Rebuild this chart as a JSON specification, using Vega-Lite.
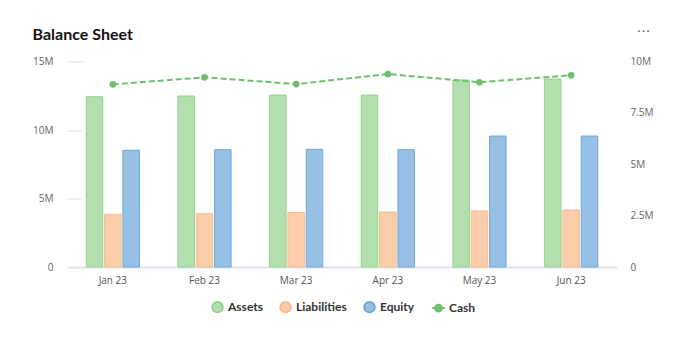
{
  "$schema": "https://vega.github.io/schema/vega-lite/v6.json",
  "width": 550,
  "height": 205.5,
  "autosize": {"type": "none"},
  "padding": {"left": 67, "top": 61.5, "right": 71, "bottom": 87},
  "background": "#ffffff",
  "title": {"text": "Balance Sheet", "anchor": "start", "frame": "bounds", "font": "Lato", "fontSize": 16, "fontWeight": "bold", "color": "#111111", "offset": 14, "dy": 33},
  "datasets": {
    "bars": [
      {"month": "Jan 23", "series": "Assets", "value": 12430000},
      {"month": "Jan 23", "series": "Liabilities", "value": 3850000},
      {"month": "Jan 23", "series": "Equity", "value": 8520000},
      {"month": "Feb 23", "series": "Assets", "value": 12480000},
      {"month": "Feb 23", "series": "Liabilities", "value": 3890000},
      {"month": "Feb 23", "series": "Equity", "value": 8560000},
      {"month": "Mar 23", "series": "Assets", "value": 12550000},
      {"month": "Mar 23", "series": "Liabilities", "value": 3970000},
      {"month": "Mar 23", "series": "Equity", "value": 8590000},
      {"month": "Apr 23", "series": "Assets", "value": 12550000},
      {"month": "Apr 23", "series": "Liabilities", "value": 4010000},
      {"month": "Apr 23", "series": "Equity", "value": 8560000},
      {"month": "May 23", "series": "Assets", "value": 13650000},
      {"month": "May 23", "series": "Liabilities", "value": 4090000},
      {"month": "May 23", "series": "Equity", "value": 9560000},
      {"month": "Jun 23", "series": "Assets", "value": 13720000},
      {"month": "Jun 23", "series": "Liabilities", "value": 4160000},
      {"month": "Jun 23", "series": "Equity", "value": 9560000}
    ],
    "cash": [
      {"month": "Jan 23", "series": "Cash", "value": 8890000},
      {"month": "Feb 23", "series": "Cash", "value": 9230000},
      {"month": "Mar 23", "series": "Cash", "value": 8900000},
      {"month": "Apr 23", "series": "Cash", "value": 9390000},
      {"month": "May 23", "series": "Cash", "value": 8990000},
      {"month": "Jun 23", "series": "Cash", "value": 9330000}
    ]
  },
  "layer": [
    {
      "data": {"name": "bars"},
      "mark": {"type": "bar", "strokeWidth": 1},
      "encoding": {
        "x": {"field": "month", "type": "nominal", "title": null,
              "scale": {"domain": ["Jan 23", "Feb 23", "Mar 23", "Apr 23", "May 23", "Jun 23"], "paddingInner": 0.42, "paddingOuter": 0.21},
              "axis": {"domain": true, "domainColor": "#dfe3ee", "domainWidth": 2, "labelPadding": 8, "labelAngle": 0, "labelColor": "#555555"}},
        "xOffset": {"field": "series", "type": "nominal",
                    "scale": {"domain": ["Assets", "Liabilities", "Equity"], "paddingInner": 0.1, "paddingOuter": 0}},
        "y": {"field": "value", "type": "quantitative", "title": null,
              "scale": {"domain": [0, 15000000], "nice": false},
              "axis": {"orient": "left", "values": [0, 5000000, 10000000, 15000000],
                       "labelExpr": "datum.value == 0 ? '0' : (datum.value / 1000000) + 'M'",
                       "offset": -16, "ticks": true, "tickSize": 16, "tickColor": "#e8e8e8", "tickWidth": 1.5, "labelPadding": 14}},
        "color": {"field": "series", "type": "nominal",
                  "scale": {"domain": ["Assets", "Liabilities", "Equity", "Cash"], "range": ["#b3dfae", "#fbcdaa", "#96c1e5", "#6fbf6f"]},
                  "legend": {"orient": "none", "legendX": 144, "legendY": 239, "direction": "horizontal", "title": null,
                             "symbolType": "circle", "symbolSize": 110, "symbolOpacity": 1,
                             "labelFont": "Lato", "labelFontSize": 12, "labelFontWeight": "bold", "labelColor": "#333333",
                             "labelOffset": 4, "columnPadding": 13, "padding": 0,
                             "encode": {"symbols": {"update": {
                               "shape": {"signal": "datum.value === 'Cash' ? 'M-1.2,0L1.2,0M-0.65,0A0.65,0.65 0 1,0 0.65,0A0.65,0.65 0 1,0 -0.65,0Z' : 'circle'"},
                               "stroke": {"signal": "datum.value === 'Cash' ? '#6fbf6f' : 'transparent'"},
                               "strokeWidth": {"value": 2}}}}}},
        "stroke": {"field": "series", "type": "nominal",
                   "scale": {"domain": ["Assets", "Liabilities", "Equity", "Cash"], "range": ["#95d291", "#f8bb8e", "#6ea7d8", "#6fbf6f"]},
                   "legend": null}
      }
    },
    {
      "data": {"name": "cash"},
      "mark": {"type": "line", "color": "#6fbf6f", "strokeWidth": 2, "strokeDash": [6, 3],
               "point": {"filled": true, "size": 45, "color": "#6fbf6f"}},
      "encoding": {
        "x": {"field": "month", "type": "nominal", "title": null},
        "y": {"field": "value", "type": "quantitative",
              "scale": {"domain": [0, 10000000], "nice": false},
              "axis": {"orient": "right", "values": [0, 2500000, 5000000, 7500000, 10000000],
                       "labelExpr": "datum.value == 0 ? '0' : (datum.value / 1000000) + 'M'",
                       "labelPadding": 13,
                       "title": "···", "titleAngle": 0, "titleAlign": "center", "titleBaseline": "middle",
                       "titleX": 26, "titleY": -30.5, "titleFontSize": 14, "titleColor": "#666666", "titleFont": "DejaVu Sans", "titleFontWeight": "normal"}}
      }
    }
  ],
  "resolve": {"scale": {"y": "independent"}},
  "config": {
    "view": {"stroke": null},
    "axis": {"labelFont": "Open Sans", "labelFontSize": 10, "labelColor": "#666666", "grid": false, "domain": false, "ticks": false}
  }
}
